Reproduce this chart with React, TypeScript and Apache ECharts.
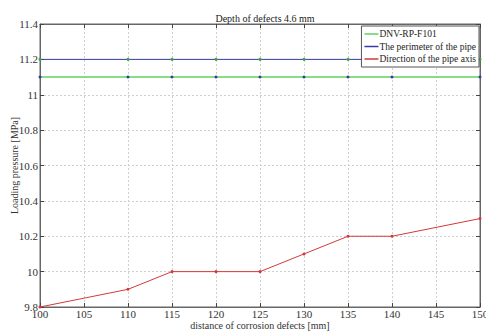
import React, { useEffect, useRef } from "react";
import * as echarts from "echarts";

const distances = [100, 110, 115, 120, 125, 130, 135, 140, 150];
const dnvValues = [11.1, 11.1, 11.1, 11.1, 11.1, 11.1, 11.1, 11.1, 11.1];
const perimeterValues = [11.2, 11.2, 11.2, 11.2, 11.2, 11.2, 11.2, 11.2, 11.2];
const axisValues = [9.8, 9.9, 10.0, 10.0, 10.0, 10.1, 10.2, 10.2, 10.3];
const seriesNames = ["DNV-RP-F101", "The perimeter of the pipe", "Direction of the pipe axis"];

const FONT = "Liberation Serif";
const GREEN = "#5fd35f";
const BLUE = "#3b3ba8";
const RED = "#d23a3a";

export default function App() {
  const ref = useRef<HTMLDivElement>(null);
  useEffect(() => {
    if (!ref.current) return;
    const chart = echarts.init(ref.current, undefined, { renderer: "svg" });
    const pairs = (ys: number[]) => distances.map((x, i) => [x, ys[i]]);
    const axisCommon = {
      type: "value" as const,
      axisLine: { show: true, lineStyle: { color: "#666", width: 1 } },
      axisTick: { show: true, inside: true, length: 4, lineStyle: { color: "#444" } },
    };
    chart.setOption({
      animation: false,
      backgroundColor: "#fff",
      textStyle: { fontFamily: FONT },
      title: {
        text: "Depth of defects 4.6 mm",
        left: 260,
        textAlign: "center",
        top: 8,
        textStyle: { fontFamily: FONT, fontSize: 10, fontWeight: "normal", color: "#222" },
      },
      grid: {
        left: 40,
        right: 6,
        top: 24,
        bottom: 25,
        containLabel: false,
        outerBoundsMode: "none",
        show: true,
        borderColor: "#666",
        borderWidth: 1,
      },
      legend: {
        orient: "vertical",
        right: 7,
        top: 26,
        backgroundColor: "#fff",
        borderColor: "#555",
        borderWidth: 1,
        borderRadius: 0,
        padding: [3, 3, 3, 3],
        itemGap: 2.5,
        itemWidth: 14,
        itemHeight: 1.5,
        textStyle: { fontFamily: FONT, fontSize: 9.5, lineHeight: 10, color: "#222", padding: [0, 0, 0, -4] },
        data: [
          { name: seriesNames[0], icon: "rect", itemStyle: { color: GREEN } },
          { name: seriesNames[1], icon: "rect", itemStyle: { color: BLUE } },
          { name: seriesNames[2], icon: "rect", itemStyle: { color: RED } },
        ],
      },
      xAxis: [
        {
          ...axisCommon,
          min: 100,
          max: 150,
          interval: 5,
          name: "distance of corrosion defects [mm]",
          nameLocation: "middle",
          nameGap: 13,
          nameMoveOverlap: false,
          nameTextStyle: { fontFamily: FONT, fontSize: 10, color: "#333", lineHeight: 10 },
          axisLabel: { fontFamily: FONT, fontSize: 11, color: "#333", margin: 1 },
          splitLine: { show: true, lineStyle: { color: "#cfcfcf", type: [2, 2] } },
        },
        {
          ...axisCommon,
          position: "top",
          min: 100,
          max: 150,
          interval: 5,
          axisLabel: { show: false },
          splitLine: { show: false },
        },
      ],
      yAxis: [
        {
          ...axisCommon,
          min: 9.8,
          max: 11.4,
          interval: 0.2,
          name: "Loading pressure [MPa]",
          nameLocation: "middle",
          nameGap: 21,
          nameMoveOverlap: false,
          nameTextStyle: { fontFamily: FONT, fontSize: 10, color: "#333", lineHeight: 10 },
          axisLabel: {
            fontFamily: FONT,
            fontSize: 11,
            color: "#333",
            margin: 2,
            formatter: (v: number) => String(Math.round(v * 10) / 10),
          },
          splitLine: { show: true, lineStyle: { color: "#cfcfcf", type: [2, 2] } },
        },
        {
          ...axisCommon,
          position: "right",
          min: 9.8,
          max: 11.4,
          interval: 0.2,
          axisLabel: { show: false },
          splitLine: { show: false },
        },
      ],
      series: [
        {
          name: seriesNames[0],
          type: "line",
          data: pairs(dnvValues),
          symbol: "circle",
          symbolSize: 3,
          lineStyle: { color: GREEN, width: 1.5 },
          itemStyle: { color: BLUE },
          z: 2,
        },
        {
          name: seriesNames[1],
          type: "line",
          data: pairs(perimeterValues),
          symbol: "circle",
          symbolSize: 3,
          lineStyle: { color: BLUE, width: 1 },
          itemStyle: { color: "#3aa83a" },
          z: 2,
        },
        {
          name: seriesNames[2],
          type: "line",
          data: pairs(axisValues),
          symbol: "circle",
          symbolSize: 3,
          lineStyle: { color: RED, width: 1 },
          itemStyle: { color: RED },
          z: 2,
        },
      ],
    });
    return () => chart.dispose();
  }, []);
  return <div ref={ref} style={{ width: 486, height: 332, position: "fixed", left: 0, top: 0 }} />;
}
